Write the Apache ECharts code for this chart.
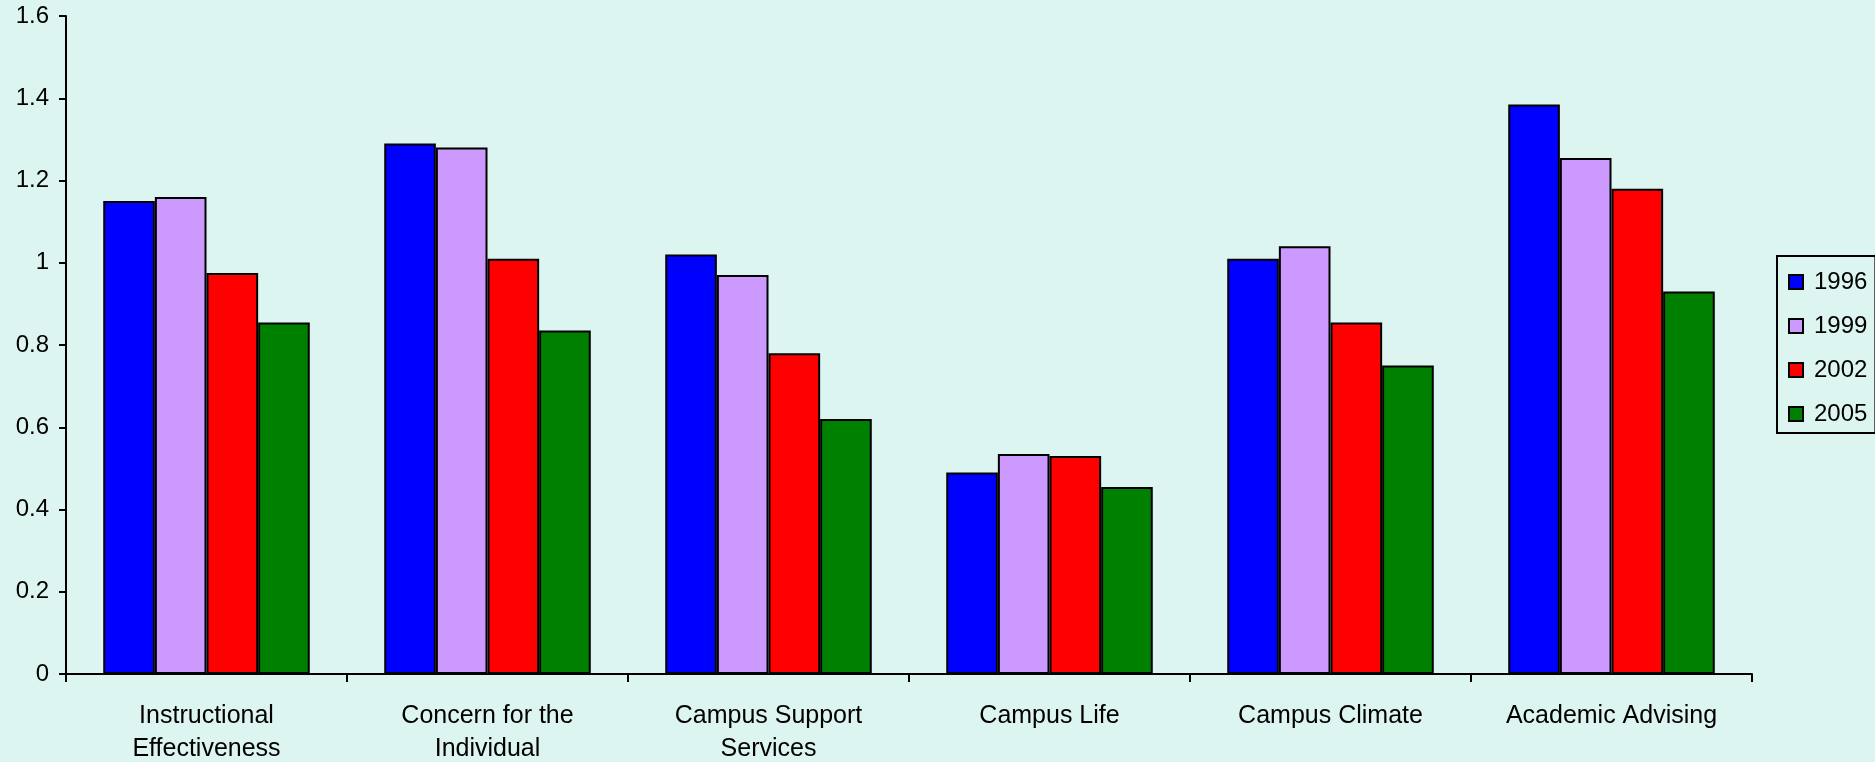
<!DOCTYPE html>
<html>
<head>
<meta charset="utf-8">
<script src="https://cdn.jsdelivr.net/npm/echarts@6/dist/echarts.min.js"></script>
<style>
html,body{margin:0;padding:0;background:#DDF5F1;}
#chart{width:1875px;height:762px;}
</style>
</head>
<body>
<div id="chart"></div>
<script>
const categories = ["Instructional\nEffectiveness", "Concern for the\nIndividual", "Campus Support\nServices", "Campus Life", "Campus Climate", "Academic Advising"];
const seriesNames = ["1996", "1999", "2002", "2005"];
const v1996 = [1.15, 1.29, 1.02, 0.49, 1.01, 1.385];
const v1999 = [1.16, 1.28, 0.97, 0.535, 1.04, 1.255];
const v2002 = [0.975, 1.01, 0.78, 0.53, 0.855, 1.18];
const v2005 = [0.855, 0.835, 0.62, 0.455, 0.75, 0.93];
const colors = ["#0000FF", "#CC99FF", "#FF0000", "#008000"];
const allValues = [v1996, v1999, v2002, v2005];

const font = "Arial, 'Liberation Sans', sans-serif";
const chart = echarts.init(document.getElementById('chart'), null, {renderer: 'canvas'});
chart.setOption({
  backgroundColor: '#DDF5F1',
  animation: false,
  grid: {left: 66, right: 123, top: 16, bottom: 88, containLabel: false, outerBoundsMode: 'none'},
  legend: {
    orient: 'vertical',
    left: 1777, top: 256,
    padding: [14, 8, 7, 11],
    itemGap: 20,
    itemWidth: 14, itemHeight: 14,
    borderColor: '#000', borderWidth: 2,
    backgroundColor: '#DDF5F1',
    textStyle: {fontFamily: font, fontSize: 24, color: '#000', lineHeight: 24, padding: [0, 0, 0, 6]},
    data: seriesNames.map(n => ({name: n, icon: 'rect', itemStyle: {borderColor: '#000', borderWidth: 2}}))
  },
  xAxis: {
    type: 'category',
    data: categories,
    axisLine: {lineStyle: {color: '#000', width: 2}},
    axisTick: {show: true, length: 8, lineStyle: {color: '#000', width: 2}, alignWithLabel: false},
    axisLabel: {fontFamily: font, fontSize: 25, color: '#000', lineHeight: 33, margin: 26, interval: 0}
  },
  yAxis: {
    type: 'value', min: 0, max: 1.6, interval: 0.2,
    splitLine: {show: false},
    axisLine: {show: true, lineStyle: {color: '#000', width: 2}},
    axisTick: {show: true, length: 7, lineStyle: {color: '#000', width: 2}},
    axisLabel: {fontFamily: font, fontSize: 24, color: '#000', margin: 17,
      formatter: v => String(Math.round(v * 10) / 10)}
  },
  series: seriesNames.map((n, i) => ({
    name: n, type: 'bar',
    data: allValues[i],
    barGap: '0%',
    barCategoryGap: '26.5%',
    itemStyle: {color: colors[i], borderColor: '#000', borderWidth: 2}
  }))
});
</script>
</body>
</html>
